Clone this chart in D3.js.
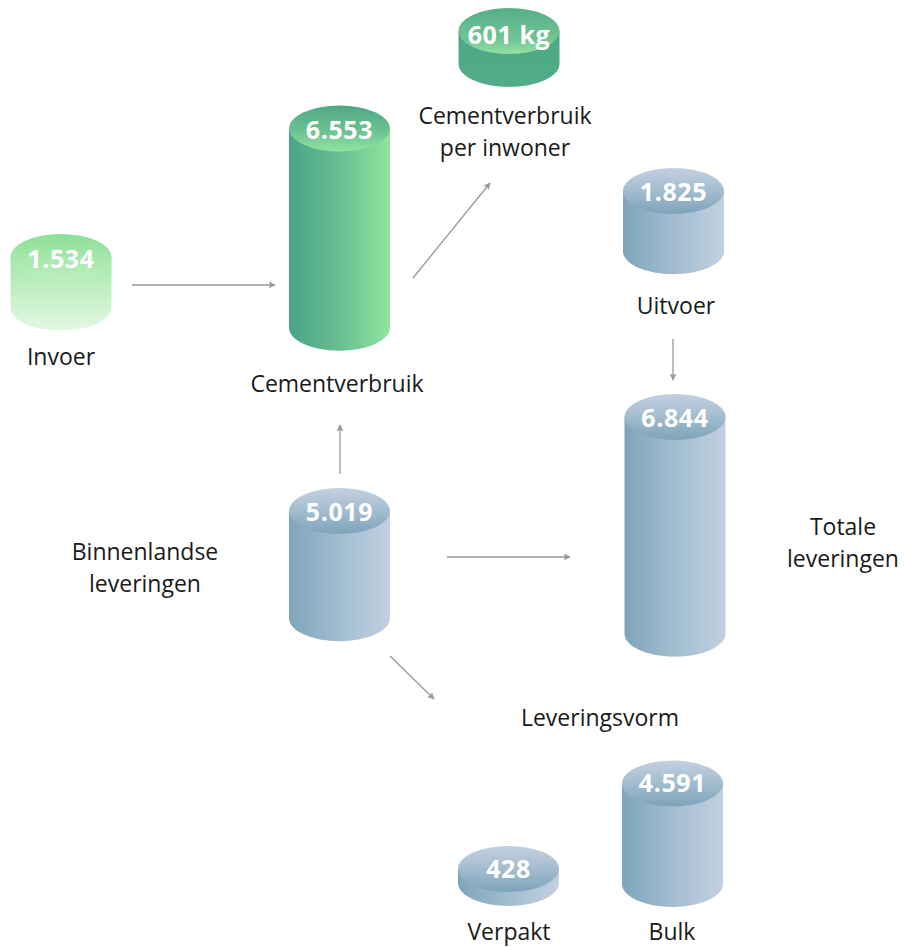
<!DOCTYPE html>
<html>
<head>
<meta charset="utf-8">
<script src="https://cdn.jsdelivr.net/npm/d3@7"></script>
<style>
  body { margin: 0; background: #fff; }
  text { font-family: "Open Sans", sans-serif; }
  .label { font-size: 23px; fill: #1a1a1a; }
  .value { font-size: 25px; font-weight: 700; fill: #fff; letter-spacing: 0.6px; }
  .flow { stroke: #999; stroke-width: 1.3; fill: none; }
</style>
</head>
<body>
<div id="chart"></div>
<script>

// cement balance, x 1.000 ton (per inwoner in kg)
var nodeIds = ["invoer", "verbruik", "perInwoner", "uitvoer", "totaal", "binnen", "verpakt", "bulk"];
var nodeLabels = [["Invoer"], ["Cementverbruik"], ["Cementverbruik", "per inwoner"], ["Uitvoer"],
  ["Totale", "leveringen"], ["Binnenlandse", "leveringen"], ["Verpakt"], ["Bulk"]];
var nodeValues = [1534, 6553, 601, 1825, 6844, 5019, 428, 4591];
var nodeUnits = ["", "", "kg", "", "", "", "", ""];

var flowFrom = ["invoer", "verbruik", "uitvoer", "binnen", "binnen", "binnen"];
var flowTo = ["verbruik", "perInwoner", "totaal", "verbruik", "totaal", "leveringsvorm"];

var groupLabels = ["Leveringsvorm"];

var width = 904, height = 947;
var rx = 50.5, ry = 23;

var nl = d3.formatLocale({ decimal: ",", thousands: ".", grouping: [3], currency: ["€ ", ""] });
var fmt = nl.format(",");

// body height of a cylinder (not strictly proportional in the original)
var hTon = d3.scaleLinear().domain([0, 2000, 5000, 7000]).range([0, 66, 106, 226]);
var hKg = d3.scaleLinear().domain([0, 1000]).range([0, 55]);

// placement of the diagram
var layout = {
  invoer:     { cx: 61,    top: 257, style: "light", lx: 61,  ly: 365, dy: 11 },
  verbruik:   { cx: 339.5, top: 128.5, style: "green", lx: 337, ly: 392, dy: 10 },
  perInwoner: { cx: 509,   top: 31,  style: "dark",  lx: 505, ly: 124, dy: 13 },
  uitvoer:    { cx: 673.5, top: 191, style: "blue",  lx: 676, ly: 314, dy: 10 },
  totaal:     { cx: 675,   top: 417, style: "blue",  lx: 843, ly: 535, dy: 10 },
  binnen:     { cx: 339.5, top: 511, style: "blue",  lx: 145, ly: 560, dy: 10 },
  verpakt:    { cx: 508.5, base: 883, style: "blue", lx: 509, ly: 940, dy: 9 },
  bulk:       { cx: 672.5, base: 884, style: "blue", lx: 672, ly: 940, dy: 9 }
};
var groupPos = { Leveringsvorm: { x: 600, y: 726 } };
var flowPos = {
  "invoer-verbruik":      [132, 285, 275, 285],
  "verbruik-perInwoner":  [413, 278, 490, 183],
  "uitvoer-totaal":       [673, 339, 673, 380],
  "binnen-verbruik":      [340, 474, 340, 425],
  "binnen-totaal":        [447, 557, 570, 557],
  "binnen-leveringsvorm": [390, 656, 434, 699]
};

var nodes = nodeIds.map(function (id, i) {
  var l = layout[id];
  var h = nodeUnits[i] === "kg" ? hKg(nodeValues[i]) : hTon(nodeValues[i]);
  var top = l.top != null ? l.top : l.base - h;
  return {
    id: id, lines: nodeLabels[i], value: nodeValues[i], unit: nodeUnits[i],
    cx: l.cx, top: top, base: top + h, style: l.style, lx: l.lx, ly: l.ly, dy: l.dy
  };
});

var svg = d3.select("#chart").append("svg")
  .attr("width", width)
  .attr("height", height);

var defs = svg.append("defs");

function grad(id, x2, y2, stops) {
  var g = defs.append("linearGradient")
    .attr("id", id)
    .attr("x1", 0).attr("y1", 0)
    .attr("x2", x2).attr("y2", y2);
  stops.forEach(function (s) {
    g.append("stop").attr("offset", s[0]).attr("stop-color", s[1]);
  });
}

var styles = {
  blue:  { body: "blue-body", top: "blue-top" },
  green: { body: "green-body", top: "green-top" },
  dark:  { body: "dark-body", top: "dark-top" },
  light: { body: "light-body", top: "light-top" }
};
grad("blue-body", 1, 0, [[0, "#7ea5bb"], [0.5, "#a2bdd0"], [1, "#c2d0e1"]]);
grad("blue-top", 0, 1, [[0, "#c3d0e1"], [0.45, "#a6bfd1"], [1, "#7ea3ba"]]);
grad("green-body", 1, 0, [[0, "#47a485"], [0.5, "#69bf93"], [1, "#90e49d"]]);
grad("green-top", 0, 1, [[0, "#4ea787"], [0.6, "#6fc493"], [1, "#93e4a0"]]);
grad("dark-body", 0, 1, [[0, "#4ba785"], [1, "#52ac89"]]);
grad("dark-top", 0, 1, [[0, "#55ae88"], [0.7, "#72c695"], [1, "#95e3a2"]]);
grad("light-body", 0, 1, [[0, "#a4e7a8"], [1, "#e4f8e4"]]);
grad("light-top", 0, 1, [[0, "#8ddf99"], [1, "#bdefbe"]]);

// arrowhead
defs.append("marker")
  .attr("id", "arrow")
  .attr("viewBox", "0 0 10 10")
  .attr("refX", 9).attr("refY", 5)
  .attr("markerWidth", 7).attr("markerHeight", 7)
  .attr("markerUnits", "userSpaceOnUse")
  .attr("orient", "auto")
  .append("path")
  .attr("d", "M0,0L10,5L0,10L2,5Z")
  .attr("fill", "#999");

var flows = flowFrom.map(function (f, i) {
  return { key: f + "-" + flowTo[i], p: flowPos[f + "-" + flowTo[i]] };
});

svg.selectAll(".flow")
  .data(flows)
  .enter().append("line")
  .attr("class", "flow")
  .attr("x1", function (d) { return d.p[0]; })
  .attr("y1", function (d) { return d.p[1]; })
  .attr("x2", function (d) { return d.p[2]; })
  .attr("y2", function (d) { return d.p[3]; })
  .attr("marker-end", "url(#arrow)");

var node = svg.selectAll(".node")
  .data(nodes)
  .enter().append("g")
  .attr("class", "node");

node.append("path")
  .attr("fill", function (d) { return "url(#" + styles[d.style].body + ")"; })
  .attr("d", function (d) {
    return "M" + (d.cx - rx) + "," + d.top +
      "L" + (d.cx - rx) + "," + d.base +
      "A" + rx + "," + ry + " 0 0 0 " + (d.cx + rx) + "," + d.base +
      "L" + (d.cx + rx) + "," + d.top + "Z";
  });

node.append("ellipse")
  .attr("cx", function (d) { return d.cx; })
  .attr("cy", function (d) { return d.top; })
  .attr("rx", rx)
  .attr("ry", ry)
  .attr("fill", function (d) { return "url(#" + styles[d.style].top + ")"; });

node.append("text")
  .attr("class", "value")
  .attr("x", function (d) { return d.cx; })
  .attr("y", function (d) { return d.top + d.dy; })
  .attr("text-anchor", "middle")
  .text(function (d) { return fmt(d.value) + (d.unit ? " " + d.unit : ""); });

node.append("text")
  .attr("class", "label")
  .attr("text-anchor", "middle")
  .selectAll("tspan")
  .data(function (d) { return d.lines.map(function (t, i) { return { t: t, x: d.lx, y: d.ly + i * 32 }; }); })
  .enter().append("tspan")
  .attr("x", function (d) { return d.x; })
  .attr("y", function (d) { return d.y; })
  .text(function (d) { return d.t; });

svg.selectAll(".group")
  .data(groupLabels)
  .enter().append("text")
  .attr("class", "label group")
  .attr("text-anchor", "middle")
  .attr("x", function (d) { return groupPos[d].x; })
  .attr("y", function (d) { return groupPos[d].y; })
  .text(function (d) { return d; });

</script>
</body>
</html>
